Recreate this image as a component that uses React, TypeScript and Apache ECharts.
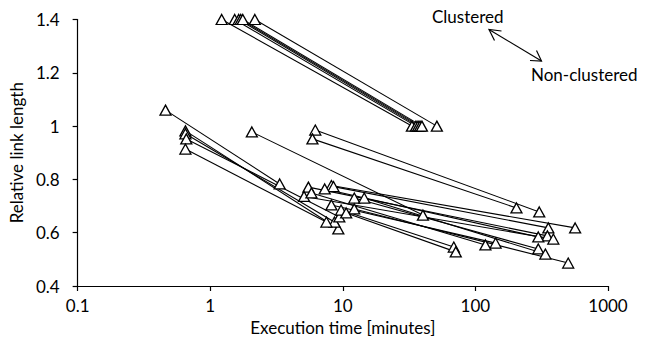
import React, { useEffect, useRef } from "react";
import * as echarts from "echarts";

// Clustered (upper-left end of each segment)
const clusteredTime = [1.22, 1.53, 1.64, 1.7, 1.76, 2.17, 0.46, 2.06, 6.2, 5.9, 0.65, 0.65, 0.66, 0.65, 8.2, 8.5, 5.5, 7.3, 5.1, 12.2, 14.5, 8.2, 12.2, 9.7, 5.8, 10.6];
const clusteredLength = [1.4, 1.4, 1.4, 1.4, 1.4, 1.4, 1.06, 0.978, 0.985, 0.952, 0.982, 0.971, 0.952, 0.914, 0.777, 0.773, 0.771, 0.764, 0.736, 0.73, 0.73, 0.704, 0.689, 0.685, 0.749, 0.674];
// Non-clustered (lower-right end of each segment)
const nonClusteredTime = [33.2, 35.6, 36.9, 38.2, 39.5, 51.2, 3.34, 40.2, 303, 204, 9.25, 8.64, 9.41, 7.52, 565, 355, 349, 298, 387, 298, 337, 142, 501, 68.7, 119, 71.1];
const nonClusteredLength = [1.0, 1.0, 1.0, 1.0, 1.0, 1.0, 0.783, 0.666, 0.678, 0.693, 0.614, 0.64, 0.659, 0.64, 0.618, 0.618, 0.588, 0.584, 0.576, 0.539, 0.52, 0.561, 0.486, 0.546, 0.554, 0.528];

const FONT = "Lato";
const FS = 17;

export default function App() {
  const ref = useRef<HTMLDivElement>(null);
  useEffect(() => {
    if (!ref.current) return;
    const chart = echarts.init(ref.current, undefined, { renderer: "svg" });
    const series = clusteredTime.map((t, i) => ({
      type: "line",
      data: [
        [t, clusteredLength[i]],
        [nonClusteredTime[i], nonClusteredLength[i]],
      ],
      symbol: "triangle",
      symbolSize: [11, 10],
      lineStyle: { color: "#000", width: 1.1 },
      itemStyle: { color: "#fff", borderColor: "#000", borderWidth: 1.3 },
      emphasis: { disabled: true },
      z: 2,
    }));
    chart.setOption({
      animation: false,
      textStyle: { fontFamily: FONT, color: "#000" },
      grid: { left: 75, right: 49, top: 19.5, bottom: 55 },
      xAxis: {
        type: "log",
        logBase: 10,
        min: 0.1,
        max: 1000,
        name: "Execution time [minutes]",
        nameLocation: "middle",
        nameGap: 32,
        nameTextStyle: { fontFamily: FONT, fontSize: FS, color: "#000" },
        axisLine: { lineStyle: { color: "#000", width: 1.2 } },
        axisTick: { show: true, length: 5, lineStyle: { color: "#000", width: 1.2 } },
        minorTick: { show: false },
        axisLabel: { fontFamily: FONT, fontSize: FS, color: "#000", margin: 11, formatter: (v: number) => String(v) },
        splitLine: { show: false },
      },
      yAxis: {
        type: "value",
        min: 0.4,
        max: 1.4,
        interval: 0.2,
        name: "Relative link length",
        nameLocation: "middle",
        nameGap: 48,
        nameTextStyle: { fontFamily: FONT, fontSize: FS, color: "#000" },
        axisLine: { show: true, lineStyle: { color: "#000", width: 1.2 } },
        axisTick: { show: true, length: 5, lineStyle: { color: "#000", width: 1.2 } },
        axisLabel: { fontFamily: FONT, fontSize: FS, color: "#000", margin: 18 },
        splitLine: { show: false },
      },
      graphic: [
        { type: "text", left: 432, top: 8, style: { text: "Clustered", font: `${FS}px ${FONT}`, fill: "#000" } },
        { type: "text", left: 531, top: 66, style: { text: "Non-clustered", font: `${FS}px ${FONT}`, fill: "#000" } },
        { type: "line", shape: { x1: 489, y1: 29.5, x2: 541.5, y2: 61 }, style: { stroke: "#000", lineWidth: 1.2 } },
        { type: "polyline", shape: { points: [[501.5, 31], [489, 29.5], [494.5, 40.5]] }, style: { stroke: "#000", lineWidth: 1.2, fill: null } },
        { type: "polyline", shape: { points: [[530, 60.5], [541.5, 61], [536.5, 50.5]] }, style: { stroke: "#000", lineWidth: 1.2, fill: null } },
      ],
      series,
    });
    return () => chart.dispose();
  }, []);
  return <div ref={ref} style={{ width: 657, height: 341, position: "absolute", left: 0, top: 0, background: "#fff" }} />;
}
